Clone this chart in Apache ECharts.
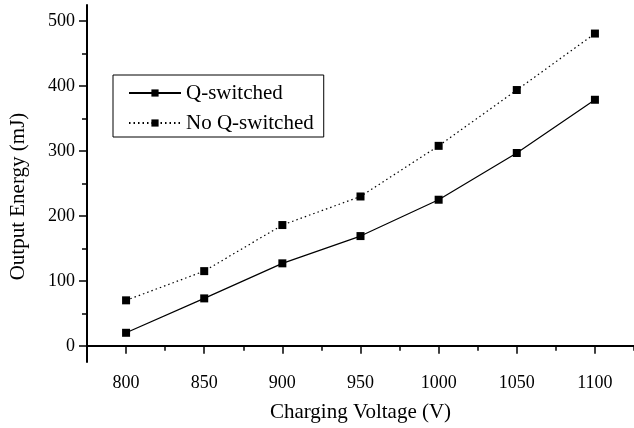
<!DOCTYPE html>
<html>
<head>
<meta charset="utf-8">
<script src="https://cdn.jsdelivr.net/npm/echarts@6/dist/echarts.min.js"></script>
<style>
html,body{margin:0;padding:0;background:#fff;}
#chart{width:634px;height:428px;}
</style>
</head>
<body>
<div id="chart"></div>
<script>
const voltages = [800, 850, 900, 950, 1000, 1050, 1100];
const qSwitched = [20, 73, 127, 169, 225, 297, 379];
const noQSwitched = [70, 115, 186, 230, 308, 394, 481];
const xLabelValues = [800, 850, 900, 950, 1000, 1050, 1100];
const xMinorValues = [775, 825, 875, 925, 975, 1025, 1075, 1125];
const yLabelValues = [0, 100, 200, 300, 400, 500];
const yMinorValues = [50, 150, 250, 350, 450];

const FONT = 'Liberation Serif';
const chart = echarts.init(document.getElementById('chart'), null, {renderer: 'canvas'});

const pairs = (xs, ys) => xs.map((x, i) => [x, ys[i]]);
const plain = v => String(v);

chart.setOption({
  animation: false,
  backgroundColor: '#fff',
  textStyle: {fontFamily: FONT, color: '#000'},
  grid: {left: 87, top: 5, width: 547, height: 357},
  legend: {
    orient: 'vertical',
    left: 113, top: 75,
    padding: [7, 10, 3, 15],
    borderColor: '#000', borderWidth: 1,
    itemWidth: 52, itemHeight: 9,
    itemGap: 8,
    textStyle: {fontFamily: FONT, fontSize: 21, color: '#000', lineHeight: 22},
    data: ['Q-switched', 'No Q-switched']
  },
  xAxis: [{
    type: 'value', min: 775, max: 1125,
    name: 'Charging Voltage (V)', nameLocation: 'middle', nameGap: 40,
    nameTextStyle: {fontFamily: FONT, fontSize: 21, color: '#000'},
    axisLine: {show: true, lineStyle: {color: '#000', width: 2}},
    axisTick: {show: true, length: 8, lineStyle: {color: '#000', width: 1.5}, customValues: xLabelValues},
    axisLabel: {fontFamily: FONT, fontSize: 18, color: '#000', margin: 12, customValues: xLabelValues, formatter: plain},
    splitLine: {show: false}
  }, {
    type: 'value', min: 775, max: 1125, position: 'bottom',
    axisLine: {show: false},
    axisTick: {show: true, length: 5, lineStyle: {color: '#000', width: 1.5}, customValues: xMinorValues},
    axisLabel: {show: false},
    splitLine: {show: false}
  }],
  yAxis: [{
    type: 'value', min: -25, max: 525,
    name: 'Output Energy (mJ)', nameLocation: 'middle', nameGap: 58,
    nameTextStyle: {fontFamily: FONT, fontSize: 21, color: '#000', padding: [0, 26, 0, 0]},
    axisLine: {show: true, lineStyle: {color: '#000', width: 2}},
    axisTick: {show: true, length: 8, lineStyle: {color: '#000', width: 1.5}, customValues: yLabelValues},
    axisLabel: {fontFamily: FONT, fontSize: 18, color: '#000', margin: 12, customValues: yLabelValues, formatter: plain},
    splitLine: {show: false}
  }, {
    type: 'value', min: -25, max: 525, position: 'left',
    axisLine: {show: false},
    axisTick: {show: true, length: 5, lineStyle: {color: '#000', width: 1.5}, customValues: yMinorValues},
    axisLabel: {show: false},
    splitLine: {show: false}
  }],
  series: [{
    name: 'Q-switched', type: 'line',
    data: pairs(voltages, qSwitched),
    symbol: 'rect', symbolSize: 8,
    lineStyle: {color: '#000', width: 1.2, type: 'solid'},
    itemStyle: {color: '#000'}
  }, {
    name: 'No Q-switched', type: 'line',
    data: pairs(voltages, noQSwitched),
    symbol: 'rect', symbolSize: 8,
    lineStyle: {color: '#000', width: 1.2, type: [1.5, 3]},
    itemStyle: {color: '#000'}
  }]
});
</script>
</body>
</html>
